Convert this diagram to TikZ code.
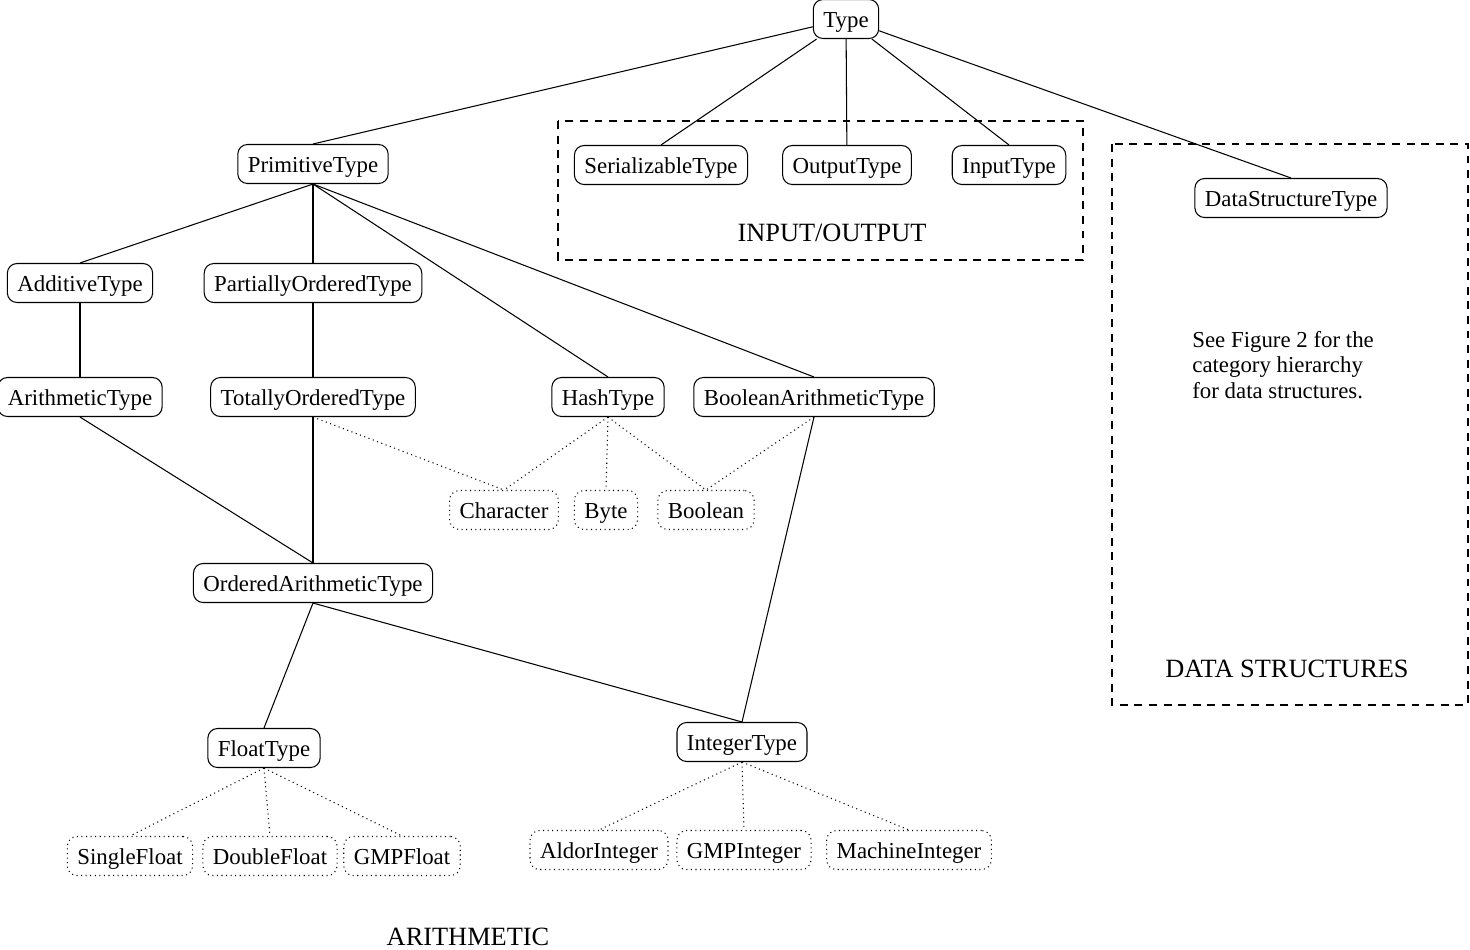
\documentclass[tikz,border=0pt]{standalone}
\usepackage{fontspec}
\setmainfont{Liberation Serif}
\usetikzlibrary{positioning}

\begin{document}
\begin{tikzpicture}[cat/.style={draw,rounded corners=5.5pt,line width=0.6pt,minimum height=0.78cm,inner xsep=0.2cm,inner ysep=0.1cm,text height=11pt,text depth=1.3pt,font=\fontsize{13}{15}\selectfont},dom/.style={cat,dotted},link/.style={line width=0.6pt},domlink/.style={link,dotted},grp/.style={draw,line width=0.6pt,dash pattern=on 4.5pt off 3.8pt},lbl/.style={font=\fontsize{15}{18}\selectfont,anchor=base,inner sep=0pt},on grid] %
    \useasboundingbox (0,0) rectangle (29.4,-18.98);
    \node[cat] (type) at (16.92,-0.38) {Type} ; %
    \node[cat, below=2.9cm of type,xshift=-10.66cm] (prim) {PrimitiveType} ; %
    \node[cat, below=2.92cm of type,xshift=-3.7cm] (ser) {SerializableType} ; %
    \node[cat, right=3.72cm of ser] (out) {OutputType} ; %
    \node[cat, right=3.24cm of out] (inp) {InputType} ; %
    \node[cat, below=3.58cm of type,xshift=8.9cm] (dstype) {DataStructureType} ; %
    \node[cat, below=2.38cm of prim,xshift=-4.66cm] (add) {AdditiveType};
    \node[cat, below=2.38cm of prim] (part) {PartiallyOrderedType};
    \node[cat, below=2.28cm of add] (arith) {ArithmeticType};
    \node[cat, below=2.28cm of part] (tot) {TotallyOrderedType};
    \node[cat, right=5.9cm of tot] (hash) {HashType};
    \node[cat, right=4.12cm of hash] (barith) {BooleanArithmeticType};
    \node[dom, below=2.26cm of tot,xshift=3.82cm] (char) {Character};
    \node[dom, right=2.04cm of char] (byte) {Byte};
    \node[dom, right=2cm of byte] (bool) {Boolean};
    \node[cat, below=3.72cm of tot] (oat) {OrderedArithmeticType};
    \node[cat, below=3.3cm of oat,xshift=-0.98cm] (float) {FloatType};
    \node[cat, below=3.18cm of oat,xshift=8.58cm] (int) {IntegerType};
    \node[dom, below=2.16cm of float,xshift=-2.68cm] (sfloat) {SingleFloat};
    \node[dom, right=2.8cm of sfloat] (dfloat) {DoubleFloat};
    \node[dom, right=2.64cm of dfloat] (gfloat) {GMPFloat};
    \node[dom, below=2.16cm of int,xshift=-2.86cm] (aint) {AldorInteger};
    \node[dom, right=2.9cm of aint] (gint) {GMPInteger};
    \node[dom, right=3.3cm of gint] (mint) {MachineInteger};
    % groups
    \draw[grp] (11.16,-2.42) rectangle (21.66,-5.2);
    \draw[grp] (22.24,-2.88) rectangle (29.36,-14.1);
    \node[lbl] (iolbl) at (16.64,-4.82) {INPUT/OUTPUT};
    \node[lbl] (dslbl) at (25.74,-13.54) {DATA STRUCTURES};
    \node[lbl] (arithlbl) at (9.36,-18.9) {ARITHMETIC};
    \node[anchor=base west,align=left,inner sep=0pt,font=\fontsize{13}{14.5}\selectfont] (dsnote) at (23.84,-7.96) {See Figure 2 for the\\category hierarchy\\for data structures.};
    % edges
    \draw[link] (type) -- (prim.north) ; %
    \draw[link] (type) -- (ser.north) ; %
    \draw[link] (type) -- (out) ; %
    \draw[link] (type) -- (inp.north) ; %
    \draw[link] (type) -- (dstype.north) ; %
    \draw[link] (prim.south) -- (add.north);
    \draw[link] (prim.south) -- (part.north);
    \draw[link] (prim.south) -- (hash.north);
    \draw[link] (prim.south) -- (barith.north);
    \draw[link] (add) -- (arith);
    \draw[link] (part) -- (tot);
    \draw[link] (arith.south) -- (oat.north);
    \draw[link] (tot) -- (oat);
    \draw[link] (barith.south) -- (int.north);
    \draw[link] (oat.south) -- (float.north);
    \draw[link] (oat.south) -- (int.north);
    \draw[domlink] (tot.south) -- (char.north);
    \draw[domlink] (hash.south) -- (char.north);
    \draw[domlink] (hash.south) -- (byte.north);
    \draw[domlink] (hash.south) -- (bool.north);
    \draw[domlink] (barith.south) -- (bool.north);
    \draw[domlink] (float.south) -- (sfloat.north);
    \draw[domlink] (float.south) -- (dfloat.north);
    \draw[domlink] (float.south) -- (gfloat.north);
    \draw[domlink] (int.south) -- (aint.north);
    \draw[domlink] (int.south) -- (gint.north);
    \draw[domlink] (int.south) -- (mint.north);
  \end{tikzpicture}
\end{document}
